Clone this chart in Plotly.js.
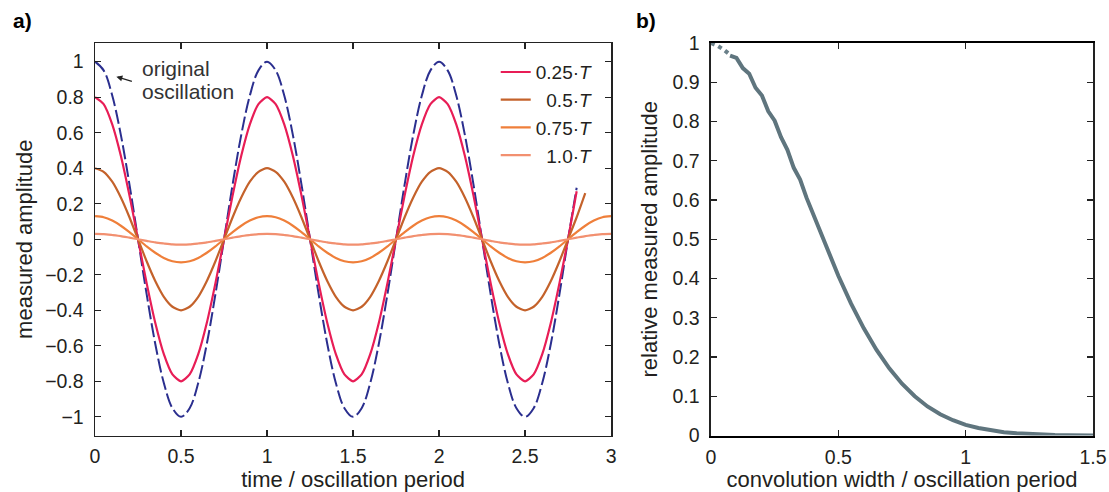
<!DOCTYPE html>
<html>
<head>
<meta charset="utf-8">
<script src="https://cdn.plot.ly/plotly-3.0.1.min.js"></script>
<style>html,body{margin:0;padding:0;background:#fff;}#chart{width:1109px;height:492px;}</style>
</head>
<body>
<div id="chart"></div>
<script>
// ---- panel a) data: time in oscillation periods ----
const time = [0,0.05,0.1,0.15,0.2,0.25,0.3,0.35,0.4,0.45,0.5,0.55,0.6,0.65,0.7,0.75,0.8,0.85,0.9,0.95,
  1,1.05,1.1,1.15,1.2,1.25,1.3,1.35,1.4,1.45,1.5,1.55,1.6,1.65,1.7,1.75,1.8,1.85,1.9,1.95,
  2,2.05,2.1,2.15,2.2,2.25,2.3,2.35,2.4,2.45,2.5,2.55,2.6,2.65,2.7,2.75,2.8,2.85,2.9,2.95,3];

const original = [1,0.951,0.809,0.588,0.309,0,-0.309,-0.588,-0.809,-0.951,-1,-0.951,-0.809,-0.588,-0.309,0,0.309,0.588,0.809,0.951,
  1,0.951,0.809,0.588,0.309,0,-0.309,-0.588,-0.809,-0.951,-1,-0.951,-0.809,-0.588,-0.309,0,0.309,0.588,0.809,0.951,
  1,0.951,0.809,0.588,0.309,0,-0.309,-0.588,-0.809,-0.951,-1,-0.951,-0.809,-0.588,-0.309,0,0.29];

const w025 = [0.8,0.761,0.647,0.47,0.247,0,-0.247,-0.47,-0.647,-0.761,-0.8,-0.761,-0.647,-0.47,-0.247,0,0.247,0.47,0.647,0.761,
  0.8,0.761,0.647,0.47,0.247,0,-0.247,-0.47,-0.647,-0.761,-0.8,-0.761,-0.647,-0.47,-0.247,0,0.247,0.47,0.647,0.761,
  0.8,0.761,0.647,0.47,0.247,0,-0.247,-0.47,-0.647,-0.761,-0.8,-0.761,-0.647,-0.47,-0.247,0,0.27];

const w050 = [0.4,0.38,0.324,0.235,0.124,0,-0.124,-0.235,-0.324,-0.38,-0.4,-0.38,-0.324,-0.235,-0.124,0,0.124,0.235,0.324,0.38,
  0.4,0.38,0.324,0.235,0.124,0,-0.124,-0.235,-0.324,-0.38,-0.4,-0.38,-0.324,-0.235,-0.124,0,0.124,0.235,0.324,0.38,
  0.4,0.38,0.324,0.235,0.124,0,-0.124,-0.235,-0.324,-0.38,-0.4,-0.38,-0.324,-0.235,-0.124,0,0.124,0.26];

const w075 = [0.13,0.124,0.105,0.076,0.04,0,-0.04,-0.076,-0.105,-0.124,-0.13,-0.124,-0.105,-0.076,-0.04,0,0.04,0.076,0.105,0.124,
  0.13,0.124,0.105,0.076,0.04,0,-0.04,-0.076,-0.105,-0.124,-0.13,-0.124,-0.105,-0.076,-0.04,0,0.04,0.076,0.105,0.124,
  0.13,0.124,0.105,0.076,0.04,0,-0.04,-0.076,-0.105,-0.124,-0.13,-0.124,-0.105,-0.076,-0.04,0,0.04,0.076,0.105,0.124,0.13];

const w100 = [0.03,0.029,0.024,0.018,0.009,0,-0.009,-0.018,-0.024,-0.029,-0.03,-0.029,-0.024,-0.018,-0.009,0,0.009,0.018,0.024,0.029,
  0.03,0.029,0.024,0.018,0.009,0,-0.009,-0.018,-0.024,-0.029,-0.03,-0.029,-0.024,-0.018,-0.009,0,0.009,0.018,0.024,0.029,
  0.03,0.029,0.024,0.018,0.009,0,-0.009,-0.018,-0.024,-0.029,-0.03,-0.029,-0.024,-0.018,-0.009,0,0.009,0.018,0.024,0.029,0.03];

const legendNames = ["0.25·<i>T</i>", "\u20070.5·<i>T</i>", "0.75·<i>T</i>", "\u20071.0·<i>T</i>"];

// ---- panel b) data ----
const widthDotted = [0,0.025,0.05,0.075];
const ampDotted = [1,0.993,0.983,0.970];
const widthSolid = [0.075,0.1,0.125,0.15,0.175,0.2,0.225,0.25,0.275,0.3,0.325,0.35,0.375,0.4,0.425,0.45,0.475,0.5,
  0.55,0.6,0.65,0.7,0.75,0.8,0.85,0.9,0.95,1,1.05,1.1,1.15,1.2,1.25,1.3,1.35,1.4,1.45,1.5];
const ampSolid = [0.968,0.962,0.936,0.922,0.886,0.866,0.826,0.802,0.760,0.728,0.682,0.652,0.606,0.566,0.524,0.484,0.445,0.407,
  0.336,0.273,0.218,0.171,0.132,0.100,0.074,0.054,0.039,0.027,0.019,0.013,0.0085,0.0056,0.0036,0.0023,0.0014,0.0009,0.0005,0.0003];

const FONT = "Liberation Sans, Arial, sans-serif";
const TXT = "#231f20";
const TICK = 19.5;
const TITLE = 22;

const traces = [
  {x: time.slice(0, original.length), y: original, mode: "lines", line: {color: "#2b2f8f", width: 2, dash: "14px,4px", shape: "spline"}, showlegend: false, xaxis: "x", yaxis: "y"},
  {x: time.slice(0, w025.length), y: w025, mode: "lines", name: legendNames[0], line: {color: "#e81d56", width: 2.2, shape: "spline", smoothing: 0.6}, xaxis: "x", yaxis: "y"},
  {x: time.slice(0, w050.length), y: w050, mode: "lines", name: legendNames[1], line: {color: "#c4622b", width: 2.2, shape: "spline", smoothing: 0.6}, xaxis: "x", yaxis: "y"},
  {x: time.slice(0, w075.length), y: w075, mode: "lines", name: legendNames[2], line: {color: "#ef7f3a", width: 2.2, shape: "spline", smoothing: 0.6}, xaxis: "x", yaxis: "y"},
  {x: time.slice(0, w100.length), y: w100, mode: "lines", name: legendNames[3], line: {color: "#f29070", width: 2.2, shape: "spline", smoothing: 0.6}, xaxis: "x", yaxis: "y"},
  {x: widthDotted, y: ampDotted, mode: "lines", line: {color: "#6a8089", width: 4, dash: "dot"}, showlegend: false, xaxis: "x2", yaxis: "y2"},
  {x: widthSolid, y: ampSolid, mode: "lines", line: {color: "#5f757e", width: 4}, showlegend: false, xaxis: "x2", yaxis: "y2"}
];

const axisBase = {
  showline: true, linecolor: "#222", linewidth: 1.5, mirror: "ticks", ticks: "inside", ticklen: 6, tickwidth: 1.2, tickcolor: "#222",
  showgrid: false, zeroline: false, tickfont: {family: FONT, size: TICK, color: TXT}
};

const layout = {
  width: 1109, height: 492,
  margin: {l: 0, r: 0, t: 0, b: 0},
  paper_bgcolor: "#fff", plot_bgcolor: "#fff",
  font: {family: FONT, size: 18, color: TXT},
  xaxis: Object.assign({}, axisBase, {domain: [0.0857, 0.551], range: [0, 3], dtick: 0.5, tick0: 0, ticklabelstandoff: 3,
    title: {text: "time / oscillation period", font: {family: FONT, size: TITLE, color: TXT}, standoff: 2}}),
  yaxis: Object.assign({}, axisBase, {domain: [0.1148, 0.9126], range: [-1.105, 1.105], dtick: 0.2, tick0: 0, ticklabelstandoff: 6,
    title: {text: "measured amplitude", font: {family: FONT, size: TITLE, color: TXT}, standoff: 6}}),
  xaxis2: Object.assign({}, axisBase, {domain: [0.6411, 0.9856], range: [0, 1.5], dtick: 0.5, tick0: 0, anchor: "y2", linewidth: 2.5, linecolor: "#000", ticklabelstandoff: 3,
    title: {text: "convolution width / oscillation period", font: {family: FONT, size: TITLE, color: TXT}, standoff: 2}}),
  yaxis2: Object.assign({}, axisBase, {domain: [0.1148, 0.9126], range: [0, 1], dtick: 0.1, tick0: 0, anchor: "x2", ticklabelstandoff: 6,
    title: {text: "relative measured amplitude", font: {family: FONT, size: TITLE, color: TXT}, standoff: 9}}),
  legend: {x: 0.447, y: 0.892, xanchor: "left", yanchor: "top", bgcolor: "rgba(0,0,0,0)", borderwidth: 0,
    font: {family: FONT, size: 19, color: TXT}, itemwidth: 30, tracegroupgap: 0},
  annotations: [
    {text: "<b>a)</b>", xref: "paper", yref: "paper", x: 0.010, y: 0.958, xanchor: "left", yanchor: "middle", showarrow: false, font: {family: FONT, size: 21, color: "#000"}},
    {text: "<b>b)</b>", xref: "paper", yref: "paper", x: 0.572, y: 0.958, xanchor: "left", yanchor: "middle", showarrow: false, font: {family: FONT, size: 21, color: "#000"}},
    {text: "original", xref: "x", yref: "y", x: 0.262, y: 0.96, xanchor: "left", yanchor: "middle", align: "left", showarrow: false, font: {family: FONT, size: 21, color: "#333"}},
    {text: "oscillation", xref: "x", yref: "y", x: 0.262, y: 0.83, xanchor: "left", yanchor: "middle", align: "left", showarrow: false, font: {family: FONT, size: 21, color: "#333"}},
    {text: "", xref: "x", yref: "y", x: 0.124, y: 0.915, ax: 17, ay: 5, showarrow: true, arrowhead: 2, arrowsize: 1, arrowwidth: 1.2, arrowcolor: "#222"}
  ]
};

Plotly.newPlot("chart", traces, layout, {displayModeBar: false, staticPlot: true});
</script>
</body>
</html>
